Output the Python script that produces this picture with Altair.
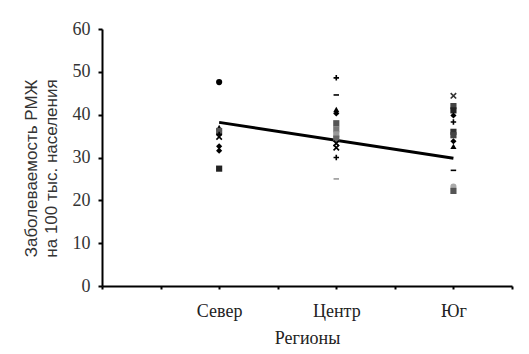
import altair as alt
import pandas as pd

# --- data ---
regions = ["Север", "Центр", "Юг"]
region_pos = [2, 4, 6]

north_vals = [47.6, 37.0, 36.2, 35.4, 34.8, 32.6, 31.6, 27.4]
north_shapes = ["circle", "triangle-up", "square", "plus", "x", "diamond", "diamond", "square"]
north_colors = ["black", "black", "#555", "black", "black", "black", "black", "#222"]

center_vals = [48.6, 44.6, 41.2, 40.3, 38.0, 36.6, 35.4, 34.4, 33.3, 32.3, 30.0, 25.0]
center_shapes = ["plus", "dash", "triangle-up", "diamond", "square", "square", "square", "square", "x", "x", "plus", "dash"]
center_colors = ["black", "black", "black", "black", "#555", "#777", "#999", "#666", "black", "black", "black", "#999"]

south_vals = [44.4, 42.0, 41.0, 39.8, 38.3, 36.0, 35.2, 33.8, 32.6, 27.0, 23.2, 22.2]
south_shapes = ["x", "square", "square", "diamond", "plus", "square", "square", "diamond", "triangle-up", "dash", "circle", "square"]
south_colors = ["#333", "#444", "#222", "black", "black", "#333", "#444", "black", "black", "black", "#aaa", "#555"]

trend_x = [2, 6]
trend_y = [38.2, 29.8]

y_ticks = [0, 10, 20, 30, 40, 50, 60]

paths = {
    "plus": "M-1,0H1M0,-1V1",
    "x": "M-1,-1L1,1M1,-1L-1,1",
    "dash": "M-1,0H1",
}
stroked = set(paths)

rows = []
for pos, vals, shapes, cols in zip(region_pos,
                                   [north_vals, center_vals, south_vals],
                                   [north_shapes, center_shapes, south_shapes],
                                   [north_colors, center_colors, south_colors]):
    for v, s, c in zip(vals, shapes, cols):
        rows.append({"x": pos, "value": v, "shape": paths.get(s, s),
                     "color": c, "stroked": s in stroked})
df = pd.DataFrame(rows)
trend = pd.DataFrame({"x": trend_x, "value": trend_y})

label_expr = " : ".join(
    f"datum.value == {p} ? '{r}'" for p, r in zip(region_pos, regions)
) + " : ''"

SERIF = "'Liberation Serif', 'DejaVu Serif', serif"
SANS = "'Liberation Sans', Arial, sans-serif"

x_enc = alt.X("x:Q", scale=alt.Scale(domain=[0, 7], nice=False, zero=True),
              axis=alt.Axis(values=list(range(8)), labelExpr=label_expr,
                            title="Регионы", grid=False, tickSize=3,
                            labelPadding=13, titlePadding=9,
                            labelFont=SERIF, labelFontSize=18,
                            titleFont=SERIF, titleFontSize=18,
                            titleFontWeight="normal", labelColor="#222",
                            titleColor="#222", domainColor="black",
                            domainWidth=2, tickColor="black", tickWidth=2,
                            labelFlush=False))
y_enc = alt.Y("value:Q", scale=alt.Scale(domain=[0, 60], nice=False),
              axis=alt.Axis(values=y_ticks, grid=False, tickSize=4,
                            title=["Заболеваемость РМЖ", "на 100 тыс. населения"],
                            labelFont=SERIF, labelFontSize=18,
                            labelColor="#333", labelPadding=8,
                            titleFont=SANS, titleFontSize=17,
                            titleFontWeight="normal", titleColor="#333",
                            titleLineHeight=20, titlePadding=12,
                            titleY=139,
                            domainColor="black", domainWidth=2,
                            tickColor="black", tickWidth=2))

base = alt.Chart(df)
filled = base.transform_filter("!datum.stroked").mark_point(
    filled=True, size=38, opacity=1).encode(
    x=x_enc, y=y_enc,
    shape=alt.Shape("shape:N", scale=None),
    color=alt.Color("color:N", scale=None))
lines = base.transform_filter("datum.stroked").mark_point(
    filled=False, size=30, strokeWidth=1.6, opacity=1).encode(
    x="x:Q", y="value:Q",
    shape=alt.Shape("shape:N", scale=None),
    color=alt.Color("color:N", scale=None))
trend_line = alt.Chart(trend).mark_line(color="black", strokeWidth=3).encode(
    x="x:Q", y="value:Q")

chart = alt.layer(trend_line, filled, lines).properties(
    width=410, height=257,
    padding={"left": 102, "top": 29, "right": 17, "bottom": 68},
    autosize=alt.AutoSizeParams(type="none"),
    background="white",
).configure_view(stroke=None)

chart.save("out.html", embed_options={"renderer": "svg", "actions": False})
